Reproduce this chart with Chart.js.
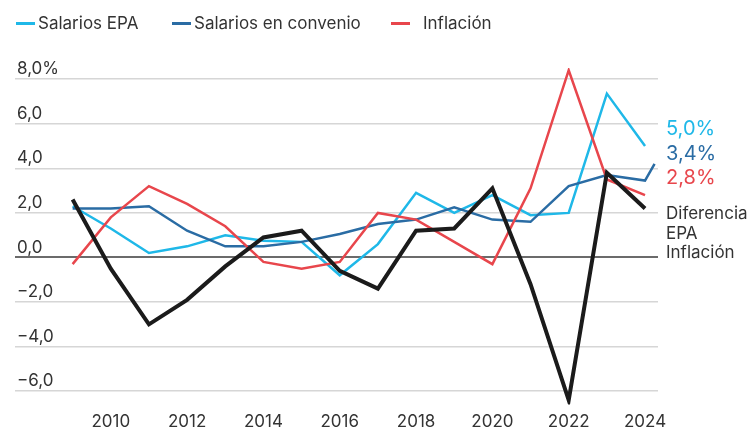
<!DOCTYPE html>
<html><head><meta charset="utf-8">
<script src="https://cdn.jsdelivr.net/npm/chart.js@4"></script>
<style>html,body{margin:0;padding:0;background:#fff}#wrap{width:752px;height:430px;position:relative}</style>
</head><body><div id="wrap"><canvas id="c"></canvas></div>
<script>
// ---- data ----
const years = [2009,2010,2011,2012,2013,2014,2015,2016,2017,2018,2019,2020,2021,2022,2023,2024];
const salariosEPA = [2.3,1.3,0.2,0.5,1.0,0.75,0.7,-0.8,0.6,2.9,2.0,2.8,1.9,2.0,7.35,5.0];
const convenioYears = [2009,2010,2011,2012,2013,2014,2015,2016,2017,2018,2019,2020,2021,2022,2023,2024,2024.25];
const salariosConvenio = [2.2,2.2,2.3,1.2,0.5,0.5,0.7,1.05,1.5,1.7,2.25,1.7,1.6,3.2,3.7,3.45,4.2];
const inflacion = [-0.3,1.8,3.2,2.4,1.4,-0.2,-0.5,-0.2,2.0,1.7,0.7,-0.3,3.1,8.4,3.5,2.8];
const diferencia = [2.6,-0.5,-3.0,-1.9,-0.4,0.9,1.2,-0.6,-1.4,1.2,1.3,3.1,-1.2,-6.4,3.8,2.2];
const xTicks = [2010,2012,2014,2016,2018,2020,2022,2024];
const yTicks = [-6,-4,-2,0,2,4,6,8];
const yTickLabels = ['\u22126,0','\u22124,0','\u22122,0','0,0','2,0','4,0','6,0','8,0%'];
const endLabels = ['5,0%','3,4%','2,8%'];
const diffLabelLines = ['Diferencia','EPA','Inflación'];
const seriesNames = ['Salarios EPA','Salarios en convenio','Inflación','Diferencia'];

const C_LIGHT = '#1fb8e8', C_DARK = '#2a6ca4', C_RED = '#e8464c', C_BLACK = '#1b1b1b', TXT = '#333333';
const FONT = 'Inter, Roboto, sans-serif';

const pts = (xs, ys) => ys.map((v, i) => ({x: xs[i], y: v}));

const overlay = {
  id: 'overlay',
  afterDraw(chart) {
    const ctx = chart.ctx, ca = chart.chartArea, ds = chart.data.datasets;
    ctx.save();
    // legend
    ctx.font = '17px ' + FONT;
    ctx.textBaseline = 'middle';
    const lx = [16, 172, 391], tx = [38, 194, 423];
    for (let i = 0; i < 3; i++) {
      ctx.fillStyle = ds[i].borderColor;
      ctx.fillRect(lx[i], 22, 19, 3);
      ctx.fillStyle = TXT;
      ctx.textAlign = 'left';
      ctx.fillText(ds[i].label, tx[i], 23.5);
    }
    // end labels
    ctx.textBaseline = 'alphabetic';
    ctx.font = '20px ' + FONT;
    const ey = [135, 160, 184];
    for (let i = 0; i < 3; i++) {
      ctx.fillStyle = ds[i].borderColor;
      ctx.fillText(endLabels[i], ca.right + 8, ey[i]);
    }
    ctx.font = '17px ' + FONT;
    ctx.fillStyle = TXT;
    const dy = [218.5, 238.5, 258];
    diffLabelLines.forEach((t, i) => ctx.fillText(t, ca.right + 8, dy[i]));
    ctx.restore();
  }
};

new Chart(document.getElementById('c'), {
  type: 'line',
  data: {
    datasets: [
      {label: seriesNames[0], data: pts(years, salariosEPA), borderColor: C_LIGHT, backgroundColor: C_LIGHT, borderWidth: 2.5, order: 3},
      {label: seriesNames[1], data: pts(convenioYears, salariosConvenio), borderColor: C_DARK, backgroundColor: C_DARK, borderWidth: 2.5, order: 2},
      {label: seriesNames[2], data: pts(years, inflacion), borderColor: C_RED, backgroundColor: C_RED, borderWidth: 2.5, order: 1},
      {label: seriesNames[3], data: pts(years, diferencia), borderColor: C_BLACK, backgroundColor: C_BLACK, borderWidth: 4, order: 0}
    ]
  },
  options: {
    responsive: true,
    maintainAspectRatio: false,
    animation: false,
    layout: {padding: {left: 11, right: 94, top: 68, bottom: -1}},
    elements: {
      line: {tension: 0, fill: false, borderJoinStyle: 'miter', borderCapStyle: 'butt'},
      point: {radius: 0, hoverRadius: 0}
    },
    plugins: {legend: {display: false}, tooltip: {enabled: false}},
    scales: {
      x: {
        type: 'linear', min: 2007.49, max: 2024.34,
        afterBuildTicks: s => { s.ticks = xTicks.map(v => ({value: v})); },
        grid: {display: false},
        border: {display: false},
        ticks: {font: {family: FONT, size: 17}, color: TXT, padding: -1, maxRotation: 0, autoSkip: false,
                callback: v => String(v)}
      },
      y: {
        min: -6.6, max: 8.5,
        afterBuildTicks: s => { s.ticks = yTicks.map(v => ({value: v})); },
        border: {display: false},
        grid: {drawTicks: false,
               color: c => c.tick && c.tick.value === 0 ? '#6b6b6b' : '#d6d6d6',
               lineWidth: c => c.tick && c.tick.value === 0 ? 2 : 1.5},
        ticks: {mirror: true, padding: 2, labelOffset: -10, font: {family: FONT, size: 17}, color: TXT,
                callback: v => yTickLabels[yTicks.indexOf(v)]}
      }
    }
  },
  plugins: [overlay]
});
</script>
</body></html>
